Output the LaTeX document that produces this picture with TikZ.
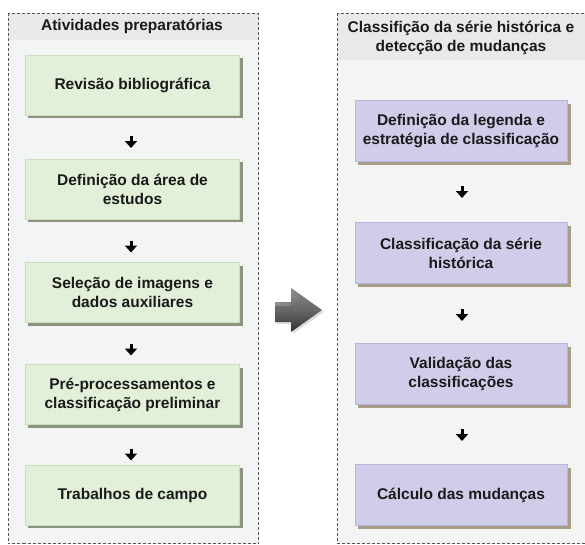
\documentclass[tikz,border=0pt]{standalone}
\usepackage{fontspec}
\setmainfont{Liberation Sans}
\usetikzlibrary{calc,arrows.meta}
\definecolor{panelbg}{HTML}{F3F4F4}
\definecolor{panelhead}{HTML}{E8E9E9}
\definecolor{panelline}{HTML}{555555}
\definecolor{greenfill}{HTML}{E2EFD9}
\definecolor{greenline}{HTML}{CADDBC}
\definecolor{purplefill}{HTML}{CFCDE9}
\definecolor{purpleline}{HTML}{B9B6DD}
\definecolor{shadowgreen}{HTML}{8E9482}
\definecolor{shadowpurple}{HTML}{A89C86}
\definecolor{txt}{HTML}{1A1A1A}
\tikzset{
  x=1pt, y=-1pt,
  panel/.style={draw=panelline, line width=0.8pt, dash pattern=on 3pt off 2pt, fill=panelbg},
  headtxt/.style={font=\fontsize{15.5}{19}\selectfont\bfseries, text=txt, align=center, inner sep=0pt},
  boxtxt/.style={font=\fontsize{15.5}{19}\selectfont\bfseries, text=txt, align=center, inner sep=0pt},
  greenbox/.style={boxtxt, rectangle, fill=greenfill, draw=greenline, line width=0.6pt,
    minimum width=214pt, minimum height=60pt},
  purplebox/.style={boxtxt, rectangle, fill=purplefill, draw=purpleline, line width=0.6pt,
    minimum width=212pt, minimum height=61pt},
  smallarrow/.style={line width=3pt, draw=black, -{Triangle[width=12pt,length=7pt]}},
}
\begin{document}
\begin{tikzpicture}
\useasboundingbox (0,0) rectangle (585,544);
\clip (0,0) rectangle (585,544);
\fill[white] (0,0) rectangle (585,544);

% panels
\fill[panelbg] (8,13) rectangle (258.5,543.5);
\fill[panelhead] (8,13) rectangle (258.5,40);
\draw[panel, fill=none] (8,13) rectangle (258.5,543.5);
\fill[panelbg] (337,13) rectangle (600,543.5);
\fill[panelhead] (337,13) rectangle (600,60);
\draw[panel, fill=none] (337,13) rectangle (600,543.5);

\node[headtxt] (hL) at (132,26.5) {Atividades preparatórias};
\node[headtxt] (hR) at (461,37.5) {Classifição da série histórica e\\detecção de mudanças};

% left boxes (shadows)
\foreach \y in {85,189,292.5,394.5,495}{
  \fill[shadowgreen] (28,\y-27) rectangle (243,\y+33);
}
\node[greenbox] (L1) at (132.5,85) {Revisão bibliográfica};
\node[greenbox] (L2) at (132.5,189) {Definição da área de\\estudos};
\node[greenbox] (L3) at (132.5,292.5) {Seleção de imagens e\\dados auxiliares};
\node[greenbox] (L4) at (132.5,394.5) {Pré-processamentos e\\classificação preliminar};
\node[greenbox] (L5) at (132.5,495) {Trabalhos de campo};

% right boxes (shadows)
\foreach \y in {131,253,374,495}{
  \fill[shadowpurple] (358,\y-27.5) rectangle (571,\y+33.5);
}
\node[purplebox] (R1) at (461,131) {Definição da legenda e\\estratégia de classificação};
\node[purplebox] (R2) at (461,253) {Classificação da série\\histórica};
\node[purplebox] (R3) at (461,374) {Validação das\\classificações};
\node[purplebox] (R4) at (461,495) {Cálculo das mudanças};

% small arrows
\coordinate (a1s) at (131,136); \coordinate (a1e) at (131,148);
\coordinate (a2s) at (131,240.5);   \coordinate (a2e) at (131,252.5);
\coordinate (a3s) at (131,343.5);   \coordinate (a3e) at (131,355.5);
\coordinate (a4s) at (131,448.5);   \coordinate (a4e) at (131,460.5);
\coordinate (b1s) at (462,186); \coordinate (b1e) at (462,198);
\coordinate (b2s) at (462,309); \coordinate (b2e) at (462,321);
\coordinate (b3s) at (462,429); \coordinate (b3e) at (462,441);
\foreach \p in {a1,a2,a3,a4,b1,b2,b3}{
  \draw[smallarrow] (\p s) -- (\p e);
}

% big arrow between panels
\fill[black!25, opacity=0.5] (277,304) -- (293,304) -- (293,290) -- (324,312) -- (293,334) -- (293,324) -- (277,324) -- cycle;
\shade[top color=black!45, bottom color=black!80, middle color=black!60]
  (275,302) -- (291,302) -- (291,288) -- (322,310) -- (291,332) -- (291,322) -- (275,322) -- cycle;
\shade[left color=black!35, right color=black!55, opacity=0.6]
  (275,302) -- (291,302) -- (291,288) -- (306,299) -- (291,299) -- (291,306) -- (275,306) -- cycle;
\end{tikzpicture}
\end{document}
